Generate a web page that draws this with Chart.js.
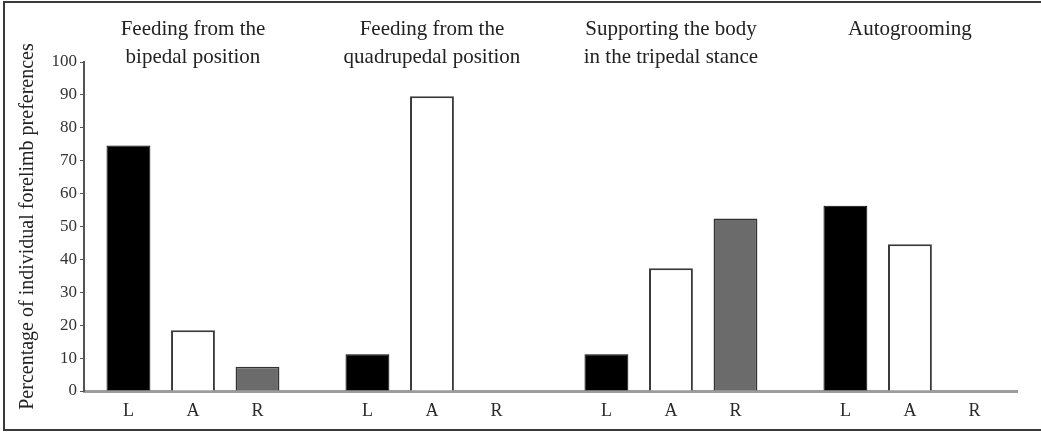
<!DOCTYPE html>
<html>
<head>
<meta charset="utf-8">
<script src="https://cdn.jsdelivr.net/npm/chart.js@4/dist/chart.umd.min.js"></script>
<style>
  body { margin: 0; background: #fff; }
  #frame { position: absolute; left: 3px; top: 1px; width: 1100px; height: 426px; border: 2px solid #3a3a3a; border-right: none; }
  #chart { position: absolute; left: 0; top: 0; }
</style>
</head>
<body>
<div id="frame"></div>
<canvas id="chart" width="1041" height="434"></canvas>
<script>
// task groups (drawn as titles above each group of bars)
const tasks = [
    ['Feeding from the', 'bipedal position'],
    ['Feeding from the', 'quadrupedal position'],
    ['Supporting the body', 'in the tripedal stance'],
    ['Autogrooming', '']
];
// hand preference classes: left, ambipreferent, right
const hands = ['L', 'A', 'R'];
const leftValues  = [74.6, 11.2, 11.2, 56.3];
const ambiValues  = [18.5, 89.6, 37.3, 44.6];
const rightValues = [7.4, 0, 52.4, 0];
const yTicks = [0, 10, 20, 30, 40, 50, 60, 70, 80, 90, 100];

const serif = '"Liberation Serif", "Times New Roman", serif';
const xMin = -0.456, xMax = 3.448;

function points(values) {
    return values.map(function (v, i) { return { x: i, y: v }; });
}

function groupTicks(scale) {
    scale.ticks = tasks.map(function (t, i) { return { value: i }; });
}

// writes L / A / R under every bar
const handLabels = {
    id: 'handLabels',
    afterDatasetsDraw: function (chart) {
        const ctx = chart.ctx;
        ctx.save();
        ctx.font = '18px ' + serif;
        ctx.fillStyle = '#2a2a2a';
        ctx.textAlign = 'center';
        ctx.textBaseline = 'middle';
        chart.data.datasets.forEach(function (ds, i) {
            chart.getDatasetMeta(i).data.forEach(function (bar) {
                ctx.fillText(ds.label, bar.x, chart.chartArea.bottom + 20);
            });
        });
        ctx.restore();
    }
};

const config = {
    type: 'bar',
    data: {
        datasets: [{
            label: hands[0],
            data: points(leftValues),
            backgroundColor: '#000',
            borderColor: '#000',
            borderWidth: 1
        }, {
            label: hands[1],
            data: points(ambiValues),
            backgroundColor: '#fff',
            borderColor: '#3a3a3a',
            borderWidth: 2
        }, {
            label: hands[2],
            data: points(rightValues),
            backgroundColor: '#6b6b6b',
            borderColor: '#333',
            borderWidth: 1.5
        }]
    },
    options: {
        responsive: false,
        animation: false,
        categoryPercentage: 0.81,
        barPercentage: 0.68,
        layout: { padding: { left: 12, right: 24, top: 0, bottom: 0 } },
        plugins: {
            legend: { display: false },
            tooltip: { enabled: false }
        },
        scales: {
            x: {
                type: 'linear',
                offset: false,
                min: xMin,
                max: xMax,
                afterBuildTicks: groupTicks,
                ticks: { display: false },
                grid: { display: false, offset: false },
                border: { display: true, color: '#9c9c9c', width: 3 },
                afterFit: function (scale) { scale.height = 43; }
            },
            x2: {
                type: 'linear',
                position: 'top',
                offset: false,
                min: xMin,
                max: xMax,
                afterBuildTicks: groupTicks,
                ticks: {
                    autoSkip: false,
                    maxRotation: 0,
                    mirror: true,
                    padding: -73,
                    color: '#222',
                    font: { family: serif, size: 21, lineHeight: 1.3 },
                    callback: function (v) { return tasks[v]; }
                },
                grid: { display: false, drawTicks: false, offset: false },
                border: { display: false },
                afterFit: function (scale) { scale.height = 62; }
            },
            y: {
                min: 0,
                max: 100,
                afterBuildTicks: function (scale) {
                    scale.ticks = yTicks.map(function (v) { return { value: v }; });
                },
                ticks: {
                    padding: 3,
                    color: '#333',
                    font: { family: serif, size: 17 }
                },
                grid: { drawOnChartArea: false, drawTicks: true, tickLength: 4, color: '#555' },
                border: { display: true, color: '#555', width: 2 },
                title: {
                    display: true,
                    text: 'Percentage of individual forelimb preferences',
                    color: '#222',
                    font: { family: serif, size: 20 }
                },
                afterFit: function (scale) { scale.width = 72; }
            }
        }
    },
    plugins: [handLabels]
};

var ctx = document.getElementById('chart').getContext('2d');
var chart = new Chart(ctx, config);
</script>
</body>
</html>
